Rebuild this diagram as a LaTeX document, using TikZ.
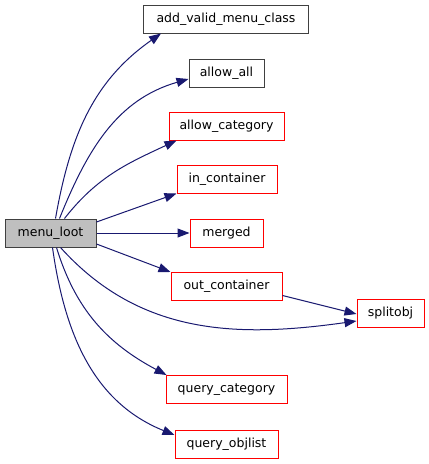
\documentclass[tikz,border=0pt]{standalone}
\usepackage{fontspec}
\setmainfont{DejaVu Sans}
\usetikzlibrary{arrows.meta}
\definecolor{edgecol}{HTML}{191970}
\begin{document}
\begin{tikzpicture}[x=1pt,y=-1pt,
  fn/.style={draw=black!75,fill=white,line width=1pt,inner sep=0pt,minimum height=28pt,font=\fontsize{12.5}{14}\selectfont},
  rfn/.style={fn,draw=red},
  cur/.style={fn,fill=black!25},
  call/.style={draw=edgecol,line width=1pt,-{Triangle[length=12pt,width=9pt]}}]
\useasboundingbox (0,0) rectangle (429,464);
\node[cur,minimum width=91pt] (menu) at (50.5,233) {menu\_loot};
\node[fn,minimum width=165pt] (add) at (226,19) {add\_valid\_menu\_class};
\node[fn,minimum width=75pt] (all) at (226.5,73) {allow\_all};
\node[rfn,minimum width=115pt] (cat) at (226.5,126) {allow\_category};
\node[rfn,minimum width=100pt] (inc) at (227,179) {in\_container};
\node[rfn,minimum width=73pt] (mer) at (226.5,233) {merged};
\node[rfn,minimum width=111pt] (outc) at (226.5,286.5) {out\_container};
\node[rfn,minimum width=67pt] (spl) at (390.5,313) {splitobj};
\node[rfn,minimum width=121pt] (qc) at (226.5,389.5) {query\_category};
\node[rfn,minimum width=103pt] (qo) at (226.5,444) {query\_objlist};
\draw[call] ([xshift=5pt]menu.north) to[out=80,in=215] ([xshift=-65pt]add.south);
\draw[call] ([xshift=9pt]menu.north) to[out=68,in=196] ([yshift=-6pt]all.west);
\draw[call] ([xshift=14pt]menu.north) to[out=52,in=205] ([xshift=-50pt]cat.south);
\draw[call] ([yshift=11pt]menu.east) -- (inc.south west);
\draw[call] (menu.east) -- (mer.west);
\draw[call] ([yshift=-11pt]menu.east) -- (outc.north west);
\draw[call] (outc.east) ++(0,9) coordinate (oc1) (oc1) -- ([yshift=-1pt]spl.west);
\draw[call] ([xshift=10pt]menu.south) to[out=-48,in=188] ([yshift=-8pt]spl.west);
\draw[call] ([xshift=6pt]menu.south) to[out=-73,in=152] ([xshift=-60pt]qc.north);
\draw[call] ([xshift=2pt]menu.south) to[out=-82,in=158] ([yshift=9pt]qo.west);
\end{tikzpicture}
\end{document}
